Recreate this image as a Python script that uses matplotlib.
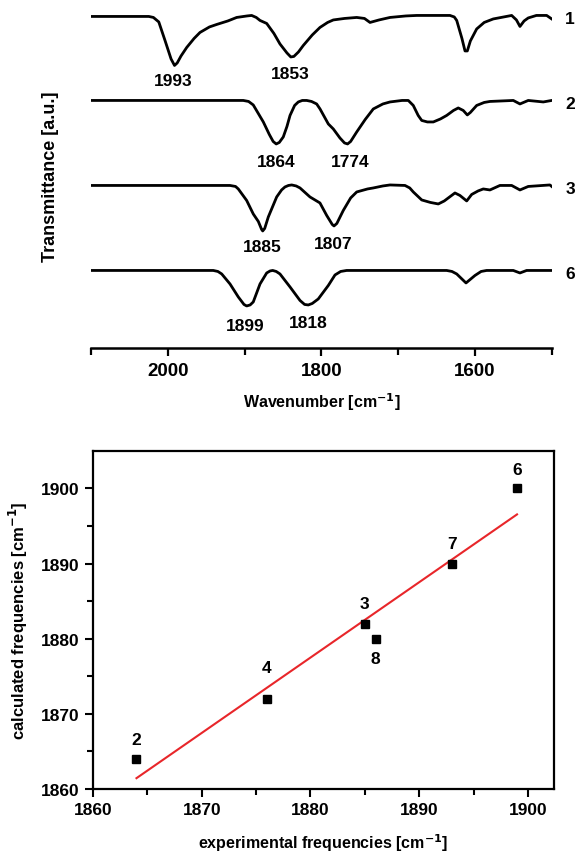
import numpy as np
import matplotlib
matplotlib.use("Agg")
import matplotlib.pyplot as plt

plt.rcParams['font.family'] = ['Liberation Sans', 'DejaVu Sans']
plt.rcParams['font.weight'] = 'bold'
plt.rcParams['mathtext.default'] = 'bf'

# IR spectra (wavenumber, transmittance relative to baseline)
wn1 = [2100, 2025, 2019, 2012, 2003.9, 1996, 1991.5, 1988, 1983, 1975.6, 1966, 1958.3, 1946, 1936.5,
       1922, 1910.5, 1897, 1891, 1885, 1880.1, 1871.4, 1862, 1854.1, 1845, 1840, 1836, 1830, 1823.7,
       1812, 1802, 1792, 1784.6, 1770, 1754.1, 1744, 1736.8, 1725, 1710.7, 1690, 1676, 1632.6, 1627,
       1623.8, 1617, 1613, 1610, 1606, 1597.8, 1588, 1576.2, 1552.2, 1546, 1541.4, 1536, 1530.6,
       1520, 1506.6, 1500]
t1 = [-0.01, -0.01, -0.03, -0.12, -0.49, -0.86, -0.99, -0.94, -0.80, -0.63, -0.45, -0.33, -0.22, -0.17,
      -0.10, -0.03, 0.0, 0.01, -0.03, -0.09, -0.15, -0.35, -0.56, -0.74, -0.82, -0.81, -0.72, -0.59,
      -0.38, -0.23, -0.13, -0.08, -0.05, -0.03, -0.05, -0.13, -0.08, -0.03, 0.0, 0.01, 0.01, -0.02,
      -0.09, -0.45, -0.70, -0.70, -0.50, -0.26, -0.13, -0.06, 0.01, -0.08, -0.21, -0.10, -0.04,
      0.01, 0.01, -0.06]

wn2 = [2100, 1901.9, 1895, 1888.9, 1875.8, 1868, 1863, 1859, 1855, 1849.8, 1845, 1841.0, 1835, 1830.2,
       1825, 1819.3, 1813, 1806.3, 1801.9, 1791.1, 1784.6, 1776, 1770, 1766, 1762, 1754.1, 1743,
       1732.5, 1720, 1710.7, 1695, 1686.9, 1680.4, 1674, 1669.4, 1662, 1654.3, 1645, 1636.9,
       1628, 1621.8, 1615.3, 1610, 1606, 1597.8, 1588, 1580.5, 1550.1, 1541.4, 1530.6, 1511.0, 1500]
t2 = [0, 0, -0.02, -0.09, -0.43, -0.68, -0.82, -0.87, -0.84, -0.73, -0.52, -0.30, -0.10, -0.03,
      0.0, 0, -0.02, -0.07, -0.17, -0.47, -0.57, -0.75, -0.85, -0.87, -0.82, -0.63, -0.38,
      -0.17, -0.07, -0.03, 0.0, 0, -0.10, -0.30, -0.40, -0.43, -0.43, -0.37, -0.30,
      -0.20, -0.15, -0.20, -0.29, -0.24, -0.10, -0.04, -0.02, 0, -0.07, 0, -0.03, 0]

wn3 = [2100, 1919.2, 1912, 1908.4, 1897.5, 1888.9, 1882.3, 1878, 1876.6, 1874, 1869.3, 1858.4, 1852,
       1847.6, 1843, 1838.8, 1833, 1828.0, 1815.0, 1802.0, 1793.2, 1786, 1783.7, 1780, 1771.6, 1762,
       1754.1, 1740, 1732.5, 1720, 1710.7, 1691.2, 1685, 1680.4, 1669.4, 1658, 1647.8, 1640, 1634.8,
       1626.1, 1619.6, 1610.8, 1604.3, 1596, 1589.2, 1580.5, 1567.5, 1552.2, 1541.4, 1530.6, 1502.4,
       1500]
t3 = [0, 0, -0.02, -0.07, -0.30, -0.57, -0.72, -0.88, -0.91, -0.86, -0.63, -0.23, -0.09,
      -0.03, 0.0, 0.01, -0.01, -0.05, -0.23, -0.35, -0.60, -0.78, -0.81, -0.76, -0.50, -0.25,
      -0.13, -0.07, -0.05, -0.01, 0.01, 0, -0.05, -0.13, -0.29, -0.34, -0.37, -0.31, -0.25,
      -0.15, -0.20, -0.31, -0.18, -0.11, -0.07, -0.09, 0, 0, -0.09, -0.02, 0.01, -0.02]

wn6 = [2100, 1941.0, 1935, 1930.0, 1919.2, 1908.4, 1901, 1897.5, 1893, 1888.9, 1880.1, 1871.4, 1867,
       1863.6, 1859, 1854.1, 1841.0, 1828.0, 1822, 1817.2, 1812, 1804.2, 1791.1, 1782.4, 1775, 1767.2,
       1636.9, 1630, 1623.8, 1611.7, 1600.0, 1592, 1584.8, 1550.1, 1541.4, 1532.7, 1500]
t6 = [0, 0, -0.02, -0.07, -0.27, -0.53, -0.68, -0.71, -0.69, -0.63, -0.27, -0.05, -0.01,
      0, -0.02, -0.07, -0.33, -0.60, -0.68, -0.69, -0.66, -0.57, -0.30, -0.09, -0.02, 0,
      0, -0.02, -0.07, -0.25, -0.10, -0.02, 0, 0, -0.05, 0, 0]

spectra = [(wn1, t1), (wn2, t2), (wn3, t3), (wn6, t6)]
spectra_names = ['1', '2', '3', '6']
offsets = [0, -1.69, -3.39, -5.09]

peak_text = ['1993', '1853', '1864', '1774', '1885', '1807', '1899', '1818']
peak_x = [1993.5, 1841, 1858.4, 1763, 1877.5, 1785, 1899.6, 1817.6]
peak_y = [-1.30, -1.16, -2.92, -2.92, -4.62, -4.56, -6.20, -6.14]

# calculated vs experimental frequencies
compound = ['2', '4', '3', '8', '7', '6']
exp_freq = [1864, 1876, 1885, 1886, 1893, 1899]
calc_freq = [1864, 1872, 1882, 1880, 1890, 1900]
label_dy = [19, 31, 20, -20, 20, 19]  # pixels, label offset from point

fig = plt.figure(figsize=(5.79, 8.53), dpi=100)

# ---- top: spectra
ax1 = fig.add_axes([0.1576, 0.5909, 0.7953, 0.4033])
for (wn, t), off, name in zip(spectra, offsets, spectra_names):
    ax1.plot(wn, np.array(t) + off, color='black', lw=2.0, solid_joinstyle='round')
    ax1.text(1476, off - 0.06, name, fontsize=12.5, fontweight='bold', ha='center', va='center',
             clip_on=False)
for s, x, y in zip(peak_text, peak_x, peak_y):
    ax1.text(x, y, s, fontsize=12.5, fontweight='bold', ha='center', va='center')

ax1.set_xlim(2100, 1500)
ax1.set_ylim(-6.64, 0.24)
for side in ['top', 'right', 'left']:
    ax1.spines[side].set_visible(False)
ax1.spines['bottom'].set_linewidth(1.8)
ax1.set_yticks([])
ax1.set_xticks([2000, 1800, 1600])
ax1.set_xticks([2100, 1900, 1700, 1500], minor=True)
ax1.tick_params(axis='x', which='major', direction='out', length=6, width=1.6, labelsize=13.5, pad=4)
ax1.tick_params(axis='x', which='minor', direction='out', length=5, width=1.6)
ax1.set_xlabel('Wavenumber [cm$^{-1}$]', fontsize=11.5, fontweight='bold', labelpad=8)
ax1.set_ylabel('Transmittance [a.u.]', fontsize=13, fontweight='bold')
ax1.yaxis.set_label_coords(-0.07, 0.5)

# ---- bottom: correlation
ax2 = fig.add_axes([0.1606, 0.0739, 0.7962, 0.3963])
k, b = np.polyfit(exp_freq, calc_freq, 1)
xf = np.array([min(exp_freq), max(exp_freq)])
ax2.plot(xf, k * xf + b, color='#e8262a', lw=1.5)
ax2.plot(exp_freq, calc_freq, 's', color='black', ms=5.5)
for name, x, y, dy in zip(compound, exp_freq, calc_freq, label_dy):
    ax2.annotate(name, (x, y), xytext=(0, dy * 0.72), textcoords='offset points',
                 ha='center', va='center', fontsize=12.5, fontweight='bold')

ax2.set_xlim(1860, 1902.4)
ax2.set_ylim(1860, 1905)
ax2.set_xticks([1860, 1870, 1880, 1890, 1900])
ax2.set_xticks([1865, 1875, 1885, 1895], minor=True)
ax2.set_yticks([1860, 1870, 1880, 1890, 1900])
ax2.set_yticks([1865, 1875, 1885, 1895], minor=True)
for sp in ax2.spines.values():
    sp.set_linewidth(1.6)
ax2.tick_params(which='major', direction='out', length=6, width=1.5, labelsize=12.5)
ax2.tick_params(which='minor', direction='out', length=4, width=1.5)
ax2.set_xlabel('experimental frequencies [cm$^{-1}$]', fontsize=11.5, fontweight='bold', labelpad=10)
ax2.set_ylabel('calculated frequencies [cm$^{-1}$]', fontsize=12, fontweight='bold', labelpad=8)

fig.savefig('out.png', dpi=100)
